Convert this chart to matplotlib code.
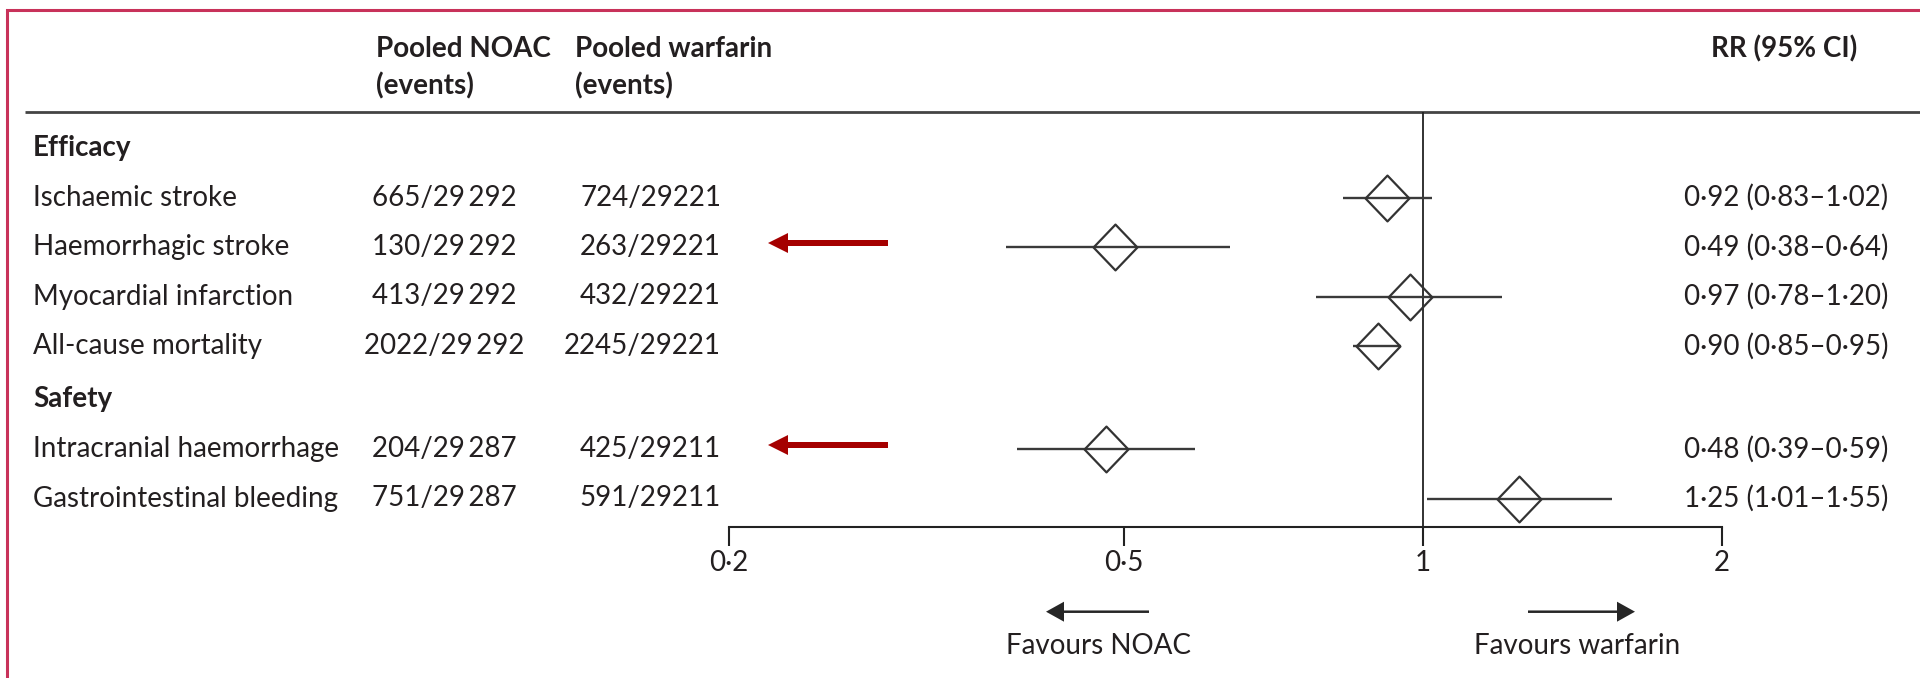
import matplotlib
matplotlib.use("Agg")
import matplotlib.pyplot as plt
from matplotlib.patches import FancyArrow
from matplotlib.path import Path

# ---------------------------------------------------------------- data
outcomes = [
    "Ischaemic stroke",
    "Haemorrhagic stroke",
    "Myocardial infarction",
    "All-cause mortality",
    "Intracranial haemorrhage",
    "Gastrointestinal bleeding",
]
groups = ["Efficacy", "Efficacy", "Efficacy", "Efficacy", "Safety", "Safety"]
noac_events = [665, 130, 413, 2022, 204, 751]
noac_total = [29292, 29292, 29292, 29292, 29287, 29287]
warfarin_events = [724, 263, 432, 2245, 425, 591]
warfarin_total = [29221, 29221, 29221, 29221, 29211, 29211]
rr = [0.92, 0.49, 0.97, 0.90, 0.48, 1.25]
ci_low = [0.83, 0.38, 0.78, 0.85, 0.39, 1.01]
ci_high = [1.02, 0.64, 1.20, 0.95, 0.59, 1.55]
highlighted = ["Haemorrhagic stroke", "Intracranial haemorrhage"]
tick_values = [0.2, 0.5, 1, 2]
col_headers = ["Pooled NOAC", "Pooled warfarin"]
rr_header = "RR (95% CI)"
favour_labels = ["Favours NOAC", "Favours warfarin"]

# ---------------------------------------------------------------- style
FONT = ["Lato", "DejaVu Sans"]
plt.rcParams["font.family"] = FONT
TEXT = "#231f20"
FS = 20
W, H = 1920, 678


def dec(v):
    return f"{v:.2f}".replace(".", "\u00b7")


def tick_fmt(v):
    return f"{v:g}".replace(".", "\u00b7")


def count(n, total, sep):
    t = str(total)
    return f"{n}/{t[:-3]}{sep}{t[-3:]}"


fig = plt.figure(figsize=(W / 100, H / 100), dpi=100)

# page layer in pixel units (y grows downward)
page = fig.add_axes([0, 0, 1, 1])
page.set_xlim(0, W)
page.set_ylim(H, 0)
page.axis("off")

# frame
page.plot([6.5, 6.5, W], [H, 9.5, 9.5], color="#c8325a", lw=2.2,
          solid_joinstyle="miter", solid_capstyle="projecting", zorder=5)

# column headers
x_left, x_noac, x_warf_hdr, x_warf_right, x_rr = 33, 444, 575, 721, 1684
for x, h in zip([376, x_warf_hdr], col_headers):
    page.text(x, 49, h, fontsize=FS, fontweight="bold", color=TEXT,
              ha="left", va="center")
    page.text(x, 86, "(events)", fontsize=FS, fontweight="bold",
              color=TEXT, ha="left", va="center")
page.text(1711, 49, rr_header, fontsize=FS, fontweight="bold",
          color=TEXT, ha="left", va="center")
page.hlines(112, 24.5, W, color="#444444", lw=2.0)

# row positions: a heading slot opens each group, with a small extra gap
top_row, step, group_gap = 148, 49.5, 4
slot = 0
heading_y = {}
row_y = []
prev = None
for g in groups:
    extra = group_gap if g != groups[0] else 0
    if g != prev:
        heading_y[g] = top_row + slot * step + extra
        slot += 1
        prev = g
    row_y.append(top_row + slot * step + extra)
    slot += 1

for g, y in heading_y.items():
    page.text(x_left, y, g, fontsize=FS, fontweight="bold", color=TEXT,
              ha="left", va="center")

for i, name in enumerate(outcomes):
    y = row_y[i]
    page.text(x_left, y, name, fontsize=FS, color=TEXT, ha="left", va="center")
    page.text(x_noac, y, count(noac_events[i], noac_total[i], "\u2009"),
              fontsize=FS, color=TEXT, ha="center", va="center")
    page.text(x_warf_right, y, count(warfarin_events[i], warfarin_total[i], ""),
              fontsize=FS, color=TEXT, ha="right", va="center")
    page.text(x_rr, y, f"{dec(rr[i])} ({dec(ci_low[i])}\u2013{dec(ci_high[i])})",
              fontsize=FS, color=TEXT, ha="left", va="center")
    if name in highlighted:
        page.add_patch(FancyArrow(888, y - 4, -120, 0, width=6, head_width=20,
                                  head_length=20, length_includes_head=True,
                                  color="#a50000", lw=0))

# ---------------------------------------------------------------- forest panel
x0, x1, y_top, y_axis = 728.6, 1722.0, 112, 527
ax = fig.add_axes([x0 / W, 1 - y_axis / H, (x1 - x0) / W, (y_axis - y_top) / H])
ax.set_facecolor("none")
ax.set_xscale("log")
ax.set_xlim(tick_values[0], tick_values[-1])
ax.set_ylim(y_axis, y_top)
for s in ["top", "left", "right"]:
    ax.spines[s].set_visible(False)
ax.spines["bottom"].set_linewidth(1.5)
ax.spines["bottom"].set_color("#222222")
ax.set_xticks(tick_values)
ax.set_xticklabels([tick_fmt(v) for v in tick_values], fontsize=FS, color=TEXT)
ax.xaxis.set_minor_locator(matplotlib.ticker.NullLocator())
ax.tick_params(axis="x", direction="out", length=13.7, width=1.5,
               color="#222222", pad=3)
ax.set_yticks([])

ax.axvline(1, color="#222222", lw=1.3, zorder=1)

diamond = Path([(0, 1), (0.957, 0), (0, -1), (-0.957, 0), (0, 1)],
               [Path.MOVETO, Path.LINETO, Path.LINETO, Path.LINETO,
                Path.CLOSEPOLY])
ax.hlines(row_y, ci_low, ci_high, color="#3a3a3a", lw=1.7, zorder=2)
ax.plot(rr, row_y, ls="none", marker=diamond, ms=33, mfc="none",
        mec="#333333", mew=1.6, zorder=3)

# direction arrows under the axis
arrow_y = 611.7
page.add_patch(FancyArrow(1149, arrow_y, -103, 0, width=2.5, head_width=20,
                          head_length=18, length_includes_head=True,
                          color="#262626", lw=0))
page.add_patch(FancyArrow(1528, arrow_y, 107, 0, width=2.5, head_width=20,
                          head_length=18, length_includes_head=True,
                          color="#262626", lw=0))
page.text(1098, 646.5, favour_labels[0], fontsize=FS, color=TEXT,
          ha="center", va="center")
page.text(1577, 646.5, favour_labels[1], fontsize=FS, color=TEXT,
          ha="center", va="center")

fig.savefig("out.png", dpi=100, facecolor="white")
